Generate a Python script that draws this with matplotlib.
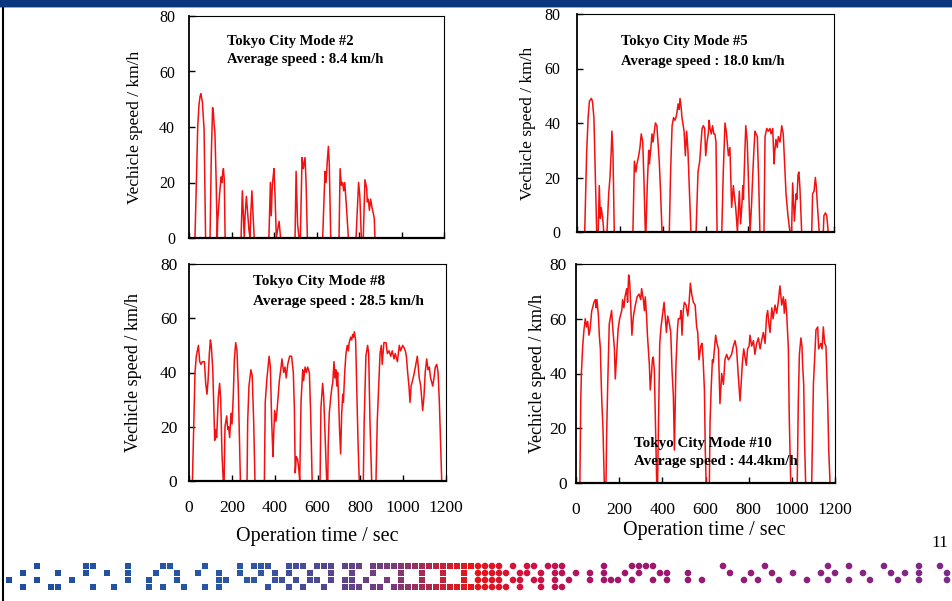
import matplotlib.pyplot as plt
from matplotlib.colors import LinearSegmentedColormap
from matplotlib.patches import Rectangle, Circle

plt.rcParams['font.family'] = ['Liberation Serif', 'DejaVu Serif']

W, H = 952, 601

# Tokyo city drive cycles: time (sec) vs vehicle speed (km/h)
t_mode2 = [0, 28, 34, 41, 47, 52, 56, 63, 71, 78,
           99, 105, 111, 115, 118, 122, 128, 133,
           135, 144, 151, 155, 158, 162, 166, 170,
           245, 251, 256, 260, 264, 270, 276, 282, 287, 291, 296, 301, 307,
           376, 383, 387, 392, 396, 400, 405, 411, 417, 424, 431,
           499, 504, 511, 518,
           524, 532, 538, 546, 551, 557,
           629, 640, 645, 648, 651, 656, 660, 667,
           706, 711, 717, 723, 728, 733, 742, 750,
           786, 798, 804, 811,
           820, 828, 836, 839, 844, 849, 855, 861, 867, 872, 875]
v_mode2 = [0, 0, 18, 40, 48, 51, 52, 49, 39, 0,
           0, 30, 47, 45, 41, 38, 20, 0,
           6, 16, 22, 20, 23, 25, 21, 0,
           0, 17, 8, 0, 8, 15, 9, 3, 0, 9, 17, 9, 0,
           0, 20, 8, 19, 22, 25, 15, 0, 3, 6, 0,
           0, 24, 5, 0,
           0, 29, 25, 29, 20, 0,
           0, 24, 20, 24, 28, 33, 27, 0,
           0, 25, 19, 20, 17, 20, 10, 0,
           0, 20, 15, 0,
           0, 21, 18, 13, 14, 10, 14, 11, 9, 7, 0]

t_mode5 = [0, 36, 45, 52, 58, 67, 72, 79, 86, 92,
           99, 104, 109, 113, 120, 125,
           140, 148, 154, 160, 163, 168, 174,
           261, 268, 275, 280, 288, 294, 300, 307, 313, 319,
           322, 328, 335, 338, 344, 350, 355, 361, 366, 373, 378, 384, 390, 397,
           431, 437, 444, 451, 457, 462, 467, 472, 477, 481, 486, 490, 500, 506, 512, 518, 525, 532,
           556, 565, 573, 580, 584, 590, 596, 601, 607, 613, 617, 621, 627, 633, 639, 644, 649, 654,
           676, 683, 691, 697, 707, 714, 722, 730, 735, 741, 749,
           758, 764, 770, 774, 777, 782, 788, 795, 802, 808, 815, 820, 826, 831, 836, 842, 848, 854,
           873, 878, 886, 893, 901, 906, 914, 920, 924, 929, 935, 940, 948, 956, 963, 971, 976, 985, 994,
           1002, 1007, 1015, 1023, 1027, 1032, 1036, 1041, 1049,
           1096, 1100, 1107, 1113, 1117, 1124, 1131,
           1150, 1153, 1160, 1166, 1173, 1178]
v_mode5 = [0, 0, 29, 42, 48, 49, 48, 42, 20, 0,
           0, 17, 5, 9, 5, 0,
           0, 14, 20, 30, 37, 29, 0,
           0, 26, 22, 25, 28, 31, 36, 33, 18, 0,
           0, 17, 30, 25, 30, 36, 33, 37, 40, 39, 33, 26, 15, 0,
           0, 22, 39, 42, 41, 42, 44, 47, 45, 49, 46, 42, 37, 28, 37, 30, 15, 0,
           0, 22, 26, 34, 38, 39, 38, 28, 33, 36, 41, 38, 36, 39, 36, 36, 33, 0,
           0, 22, 40, 37, 28, 31, 9, 17, 13, 9, 0,
           15, 3, 10, 17, 12, 25, 39, 33, 15, 0, 10, 20, 30, 37, 36, 35, 20, 0,
           0, 35, 38, 37, 38, 36, 38, 25, 30, 34, 31, 35, 33, 39, 36, 22, 14, 6, 0,
           0, 18, 4, 14, 12, 21, 22, 16, 0,
           0, 14, 15, 20, 17, 8, 0,
           0, 6, 7, 6, 0, 0]

t_mode8 = [0, 16, 22, 28, 34, 39, 44, 50, 56, 62, 67, 72, 75, 78, 84, 89, 95, 100, 104,
           111, 115, 120, 125, 129, 137, 143, 148, 154, 160,
           164, 168, 176, 181, 185, 190, 196, 201, 207, 212, 218, 224, 230, 240,
           271, 274, 280, 289, 295, 302, 308,
           352, 356, 363, 374, 380, 386, 392, 395, 400, 406, 411, 415, 422, 430, 434,
           442, 448, 454, 461, 470, 479, 487, 492, 496, 501, 507, 512, 517,
           523, 531, 535, 542, 548, 554, 562, 568, 575,
           612, 616, 624, 629, 636, 643,
           648, 650, 655, 662, 668, 671, 677, 682, 686, 690, 694, 699, 703, 708, 713, 718,
           721, 727, 733, 739, 744, 748, 755, 760, 764, 768, 772, 778, 783, 789, 795,
           814, 818, 826, 834, 839, 845, 853,
           873, 879, 886, 892, 898, 902, 910, 920, 926, 934, 942, 949, 957, 963, 973,
           982, 988, 998, 1005, 1010, 1015, 1021, 1027, 1032, 1037, 1047, 1057, 1066, 1075, 1082,
           1091, 1097, 1103, 1110, 1116, 1122, 1128, 1138, 1144, 1150, 1157, 1163, 1169, 1175, 1180]
v_mode8 = [0, 0, 20, 40, 46, 48, 50, 44, 43, 44, 44, 44, 40, 36, 32, 37, 47, 52, 50,
           41, 29, 15, 19, 16, 31, 36, 30, 10, 0,
           0, 20, 24, 19, 20, 16, 25, 21, 32, 45, 51, 48, 35, 0,
           0, 22, 35, 41, 39, 22, 0,
           0, 29, 37, 46, 42, 22, 9, 16, 26, 22, 26, 30, 37, 42, 45,
           40, 42, 38, 43, 46, 46, 40, 27, 3, 9, 8, 5, 0,
           29, 41, 37, 42, 40, 42, 40, 25, 0,
           0, 27, 36, 31, 15, 0,
           0, 13, 25, 31, 35, 36, 44, 38, 41, 35, 40, 29, 19, 10, 25, 32,
           29, 40, 47, 50, 48, 51, 53, 52, 54, 53, 55, 52, 35, 15, 0,
           0, 22, 46, 50, 47, 22, 0,
           0, 22, 36, 47, 50, 43, 51, 51, 47, 48, 46, 48, 45, 47, 44,
           50, 48, 50, 49, 48, 46, 40, 35, 29, 35, 38, 42, 46, 38, 35,
           26, 31, 40, 45, 41, 42, 38, 35, 38, 42, 43, 40, 29, 13, 0]

t_mode10 = [0, 18, 22, 25, 31, 37, 43, 49, 54, 60, 65, 73, 77, 83, 90, 93, 97, 104, 108, 113,
            116, 120, 125, 131, 139, 142, 147, 154, 165, 170, 178, 182, 188, 195, 202, 212,
            216, 222, 227, 235, 239, 244, 249, 253, 259, 266, 275, 283, 292, 300, 304, 312,
            317, 321, 327, 331, 335, 340, 344, 349, 354, 358, 363, 369, 374, 378, 382, 388,
            394, 400, 408, 414, 419, 425, 433, 439, 445, 451, 456, 460, 463, 470, 474, 482,
            487, 491, 497, 502, 510, 518, 524, 530, 536, 544, 552, 559, 564, 570, 578, 584,
            589, 595, 599, 603, 618, 621, 626, 632, 636, 647, 653, 660, 667, 675, 683, 690,
            698, 706, 714, 721, 729, 737, 744, 752, 760, 765, 771, 777, 783, 789, 795, 802,
            806, 814, 822, 829, 837, 845, 853, 860, 868, 876, 883, 888, 894, 899, 907, 913,
            922, 930, 937, 945, 953, 961, 965, 971, 976, 984, 988, 995, 1025, 1030, 1035,
            1042, 1047, 1050, 1055, 1059, 1064, 1092, 1100, 1106, 1112, 1120, 1124, 1134,
            1140, 1146, 1152, 1158, 1161, 1166, 1171, 1177]
v_mode10 = [0, 0, 30, 40, 50, 56, 60, 57, 59, 54, 56, 63, 64, 66, 67, 64, 67, 61, 54, 49,
            39, 29, 20, 0, 0, 18, 36, 58, 63, 57, 49, 38, 46, 56, 60, 63,
            67, 64, 68, 71, 66, 76, 73, 66, 54, 61, 65, 68, 69, 67, 71, 67,
            63, 68, 61, 54, 49, 43, 34, 39, 45, 46, 41, 18, 0, 0, 20, 51,
            57, 61, 66, 60, 55, 61, 58, 55, 41, 32, 12, 29, 43, 56, 60, 60,
            63, 54, 63, 66, 65, 61, 66, 73, 69, 66, 65, 57, 55, 45, 50, 51,
            45, 34, 12, 0, 0, 22, 34, 45, 44, 54, 51, 49, 29, 40, 36, 45,
            47, 45, 46, 47, 50, 52, 49, 39, 30, 36, 44, 49, 46, 43, 49, 50,
            54, 50, 52, 47, 51, 53, 49, 52, 55, 51, 61, 63, 58, 55, 64, 60,
            65, 62, 66, 72, 65, 68, 62, 67, 62, 49, 24, 0, 0, 30, 47,
            53, 50, 43, 36, 15, 0, 0, 36, 46, 56, 57, 49, 51,
            49, 57, 51, 50, 43, 30, 12, 0]

series = [(t_mode2, v_mode2), (t_mode5, v_mode5), (t_mode8, v_mode8), (t_mode10, v_mode10)]
mode_names = ['Tokyo City Mode #2', 'Tokyo City Mode #5', 'Tokyo City Mode #8', 'Tokyo City Mode #10']
avg_labels = ['Average speed : 8.4 km/h', 'Average speed : 18.0 km/h',
              'Average speed : 28.5 km/h', 'Average speed : 44.4km/h']
y_ticks = [0, 20, 40, 60, 80]
x_ticks = [0, 200, 400, 600, 800, 1000, 1200]

# panel layout in pixels: (left, top, right, bottom)
boxes = [(189, 16, 444, 238), (577, 14, 834, 232), (189, 264, 446, 481), (576, 264, 835, 483)]
note_pos = [(227, 42, 60), (621, 42, 61), (253, 282, 302), (634, 443, 462)]
note_size = [10.5, 10.5, 11, 10.8]
tick_size = [11.5, 11.5, 12.5, 12.5]
ypad = [10, 12, 8.5, 6.5]
ylab_x = [135, 528, 134, 538]
ylab_size = [12.5, 12.5, 13, 13]


def fx(x):
    return x / W


def fy(y):
    return 1 - y / H


fig = plt.figure(figsize=(W / 100, H / 100), dpi=100)

# slide frame and the strip of blocks along the bottom
bg = fig.add_axes([0, 0, 1, 1])
bg.set_xlim(0, W)
bg.set_ylim(H, 0)
bg.axis('off')
bg.add_patch(Rectangle((0, 0), W, 6.5, color='#0b377f', lw=0))
bg.add_patch(Rectangle((0, 6.5), W, 1.5, color='#90a8d4', lw=0))
bg.plot([3, 3], [8, H], color='black', lw=1.5)

strip_rows = [
    "....#......##....#....##....#....#." + "###..###.###.###.####" + "###########" + "oooo.o.oo.ooo"
    + ".....o...oooo.........o.....o........o..o....o....o..o...",
    "..#....#...#..#..#...#..#..#..#..#.." + "#.#.#..#..#..#..#..." + "#..#..#..#." + "ooooo.oo.o.oo"
    + ".o.o.o..o.o..oo..o.....o..o..o..o...o.o...o...o.o.o...o.",
    "#...#....#.......#..#...#.....##..#" + "#..##.#.##.#.##.#..#." + "#..#..#..#." + "oooo.oo.oo.o."
    + "o..o.ooo.o..o.o..o.o.....o.o..o...o..o..o..o...o..o...o..",
    "..#...##....#..#....#.#..#..#.#....#" [:35] + "..#..#.#..#..###.##.#" + "###########" + "ooooo.o..o.oo"
    + "........................................................",
]
strip_cmap = LinearSegmentedColormap.from_list('strip', [
    (0.0, '#1d4e9c'), (0.25, '#2a58a6'), (0.32, '#4a4a96'), (0.41, '#7a3a7c'),
    (0.49, '#e81515'), (0.55, '#d3103c'), (0.63, '#a3146a'), (1.0, '#7a2a8c')])
cell = 7
for r, row in enumerate(strip_rows):
    for c, ch in enumerate(row):
        x = 6 + c * cell
        y = 563 + r * cell
        col = strip_cmap(min(x / W, 1))
        if ch == '#':
            bg.add_patch(Rectangle((x, y), cell - 1, cell - 1, color=col, lw=0))
        elif ch == 'o':
            bg.add_patch(Circle((x + 3, y + 3), 3.3, color=col, lw=0))

fig.text(fx(940), fy(543), '11', fontsize=12.5, ha='center', va='center')

for i, ((t, v), box) in enumerate(zip(series, boxes)):
    l, tp, r, b = box
    ax = fig.add_axes([fx(l), fy(b), (r - l) / W, (b - tp) / H])
    ax.plot(t, v, color='#f21010', lw=1.1)
    ax.set_xlim(0, 1200)
    ax.set_ylim(0, 80)
    ax.set_yticks(y_ticks)
    ax.set_xticks(x_ticks)
    ax.tick_params(direction='in', length=4, width=1, labelsize=tick_size[i])
    ax.tick_params(axis='y', pad=ypad[i])
    ax.tick_params(axis='x', pad=14)
    if i < 2:
        ax.set_xticklabels([])
    ax.spines['bottom'].set_linewidth(1.6)
    ax.spines['left'].set_linewidth(1.3)
    ax.spines['top'].set_linewidth(0.8)
    ax.spines['right'].set_linewidth(0.8)

    nx, ny1, ny2 = note_pos[i]
    fig.text(fx(nx), fy(ny1), mode_names[i], fontsize=note_size[i], fontweight='bold',
             ha='left', va='center')
    fig.text(fx(nx), fy(ny2), avg_labels[i], fontsize=note_size[i], fontweight='bold',
             ha='left', va='center')
    fig.text(fx(ylab_x[i]), fy((tp + b) / 2), 'Vechicle speed / km/h', fontsize=ylab_size[i],
             rotation=90, ha='center', va='center')

fig.text(fx(317), fy(537), 'Operation time / sec', fontsize=14.5, ha='center', va='center')
fig.text(fx(704), fy(530), 'Operation time / sec', fontsize=14.5, ha='center', va='center')

fig.savefig('out.png', dpi=100, facecolor='white')
